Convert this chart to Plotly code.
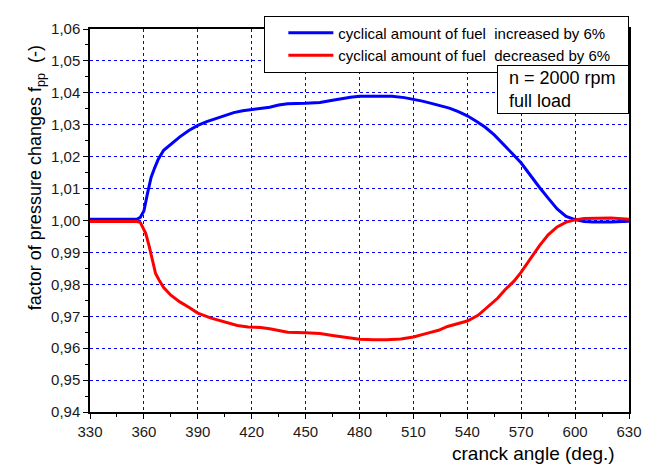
import plotly.graph_objs as go

# crank angle (deg.) and pressure-change factor
angle_up = [330, 350, 356, 358, 360, 362, 364, 366, 368, 371, 375, 380, 385, 390, 395,
            400, 405, 410, 415, 420, 425, 430, 435, 440, 450, 458, 465, 470, 475, 480,
            490, 498, 505, 510, 515, 520, 525, 530, 535, 540, 545, 550, 555, 560, 565,
            570, 575, 580, 585, 590, 595, 600, 605, 610, 620, 630]
fpp_up = [1.0004, 1.0004, 1.0004, 1.0010, 1.0030, 1.0085, 1.0135, 1.0165, 1.0192, 1.0220,
          1.0240, 1.0262, 1.0282, 1.0298, 1.0310, 1.0320, 1.0330, 1.0338, 1.0344, 1.0348,
          1.0350, 1.0355, 1.0362, 1.0366, 1.0367, 1.0370, 1.0377, 1.0382, 1.0386, 1.0389,
          1.0390, 1.0389, 1.0385, 1.0380, 1.0374, 1.0367, 1.0360, 1.0352, 1.0341, 1.0328,
          1.0311, 1.0292, 1.0268, 1.0240, 1.0210, 1.0180, 1.0142, 1.0105, 1.0070, 1.0036,
          1.0013, 1.0003, 0.9997, 0.9995, 0.9995, 0.9998]

angle_down = [330, 356, 358, 360, 361, 363, 365, 366.5, 368.5, 371, 375, 380, 385, 390, 397,
              404, 412, 418, 425, 430, 435, 440, 450, 458, 465, 472, 480, 488, 495,
              503, 510, 518, 524, 529, 535, 540, 546, 552, 557, 561, 566, 570, 575, 580,
              585, 590, 595, 600, 605, 610, 620, 630]
fpp_down = [0.9997, 0.9997, 0.9994, 0.9972, 0.9960, 0.9918, 0.9866, 0.9834, 0.9813, 0.9790,
            0.9766, 0.9745, 0.9728, 0.9710, 0.9695, 0.9684, 0.9671, 0.9666, 0.9665, 0.9661,
            0.9655, 0.9650, 0.9648, 0.9646, 0.9640, 0.9635, 0.9628, 0.9626, 0.9626,
            0.9629, 0.9635, 0.9647, 0.9656, 0.9668, 0.9676, 0.9685, 0.9703, 0.9731, 0.9757,
            0.9783, 0.9810, 0.9838, 0.9880, 0.9920, 0.9955, 0.9980, 0.9995, 1.0002, 1.0006,
            1.0007, 1.0008, 1.0004]

FONT = 'Liberation Sans, Arial, sans-serif'

trace = [
    go.Scatter(x=angle_up, y=fpp_up, mode='lines', line={'color': '#0000ff', 'width': 3},
               name='cyclical amount of fuel\u00a0 increased by 6%\u00a0\u00a0\u00a0'),
    go.Scatter(x=angle_down, y=fpp_down, mode='lines', line={'color': '#ff0000', 'width': 3},
               name='cyclical amount of fuel\u00a0 decreased by 6%\u00a0\u00a0\u00a0'),
]

axis_common = {
    'showline': True,
    'linecolor': 'black',
    'linewidth': 1.5,
    'mirror': True,
    'ticks': 'outside',
    'ticklen': 5,
    'tickcolor': 'black',
    'showgrid': True,
    'gridcolor': '#0000ff',
    'gridwidth': 1,
    'griddash': 'dot',
    'zeroline': False,
    'tickfont': {'size': 15, 'color': '#1a1a1a', 'family': FONT},
}

# the page has an 8px body margin, so the figure is a bit smaller than the window
fig = go.Figure(trace)
fig.update_layout(
    width=647, height=458,
    margin={'l': 82, 'r': 26, 't': 8, 'b': 54},
    paper_bgcolor='white', plot_bgcolor='white',
    separators=',.',
    font={'family': FONT, 'color': 'black'},
    xaxis=dict(axis_common, range=[330, 630], dtick=30, tick0=330,
               minor={'dtick': 15, 'ticklen': 3, 'ticks': 'outside', 'tickcolor': 'black',
                      'showgrid': False}),
    yaxis=dict(axis_common, range=[0.94, 1.06], dtick=0.01, tick0=0.94, tickformat='.2f',
               minor={'dtick': 0.005, 'ticklen': 3, 'ticks': 'outside', 'tickcolor': 'black',
                      'showgrid': False}),
    legend={
        'x': 1, 'y': 1.035, 'xanchor': 'right', 'yanchor': 'top',
        'bgcolor': 'white', 'bordercolor': 'black', 'borderwidth': 1,
        'font': {'size': 15, 'family': FONT},
        'title': {'text': '\u00a0\u00a0', 'side': 'left', 'font': {'size': 15}},
        'itemwidth': 45,
        'tracegroupgap': 0,
    },
    annotations=[
        {'text': 'factor of pressure changes f<sub>pp</sub>  (-)', 'textangle': -90,
         'xref': 'paper', 'yref': 'paper', 'x': -0.098, 'y': 0.611,
         'xanchor': 'center', 'yanchor': 'middle', 'showarrow': False,
         'font': {'size': 18, 'family': FONT}},
        {'text': 'cranck angle (deg.)', 'xref': 'paper', 'yref': 'paper',
         'x': 0.978, 'y': -0.075, 'xanchor': 'right', 'yanchor': 'top', 'showarrow': False,
         'font': {'size': 19, 'family': FONT}},
        {'text': '\u2002n = 2000 rpm<br>\u2002full load', 'xref': 'paper', 'yref': 'paper',
         'x': 1, 'y': 0.907, 'xanchor': 'right', 'yanchor': 'top', 'showarrow': False,
         'align': 'left', 'width': 126, 'borderpad': 2,
         'bgcolor': 'white', 'bordercolor': 'black', 'borderwidth': 1,
         'font': {'size': 18, 'family': FONT}},
    ],
)

fig.write_html("out.html")
